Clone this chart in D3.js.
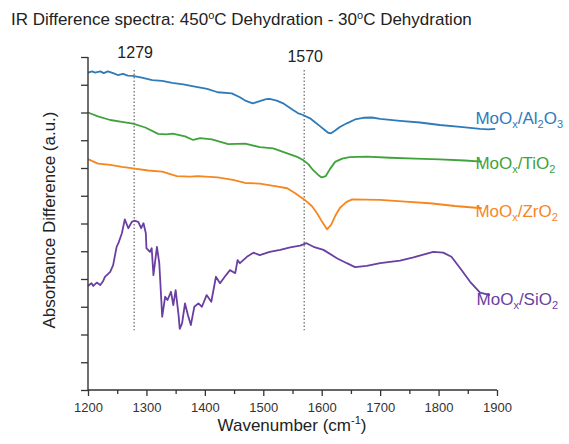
<!DOCTYPE html>
<html>
<head>
<meta charset="utf-8">
<script src="https://cdn.jsdelivr.net/npm/d3@7"></script>
<style>
body { margin: 0; background: #fff; }
svg { display: block; }
text { font-family: "Liberation Sans", Arial, sans-serif; }
</style>
</head>
<body>
<svg width="569" height="444"></svg>
<script>
// spectra, [wavenumber, absorbance difference (a.u., offset)]
const al2o3 = [[1200,11.44],[1207,11.48],[1212,11.44],[1221,11.48],[1227,11.42],[1234,11.48],[1243,11.42],[1251,11.35],[1260,11.39],[1268,11.33],[1277,11.32],[1292,11.26],[1310,11.17],[1327,11.14],[1344,11.07],[1363,11.01],[1383,10.93],[1404,10.85],[1422,10.73],[1446,10.69],[1460,10.55],[1469,10.43],[1482,10.33],[1494,10.41],[1505,10.48],[1511,10.49],[1523,10.43],[1534,10.33],[1542,10.22],[1551,10.09],[1559,9.98],[1568,9.91],[1580,9.79],[1588,9.66],[1597,9.51],[1604,9.39],[1611,9.27],[1616,9.25],[1623,9.35],[1631,9.48],[1643,9.61],[1657,9.75],[1671,9.81],[1686,9.82],[1700,9.77],[1734,9.70],[1768,9.64],[1802,9.55],[1837,9.48],[1871,9.41],[1885,9.39],[1897,9.41]];
const tio2 = [[1200,10.00],[1217,9.86],[1238,9.73],[1258,9.66],[1277,9.60],[1298,9.46],[1320,9.23],[1334,9.21],[1345,9.24],[1366,9.14],[1380,9.01],[1392,9.08],[1412,9.03],[1440,8.86],[1469,8.88],[1494,8.75],[1517,8.71],[1541,8.53],[1558,8.40],[1568,8.29],[1577,8.14],[1585,7.93],[1594,7.75],[1600,7.66],[1607,7.71],[1614,7.96],[1623,8.22],[1635,8.34],[1648,8.39],[1677,8.41],[1717,8.37],[1760,8.34],[1802,8.31],[1845,8.27],[1874,8.23]];
const zro2 = [[1200,8.32],[1217,8.16],[1238,8.11],[1258,8.04],[1277,7.99],[1303,7.91],[1327,7.87],[1352,7.71],[1375,7.69],[1388,7.71],[1422,7.66],[1448,7.57],[1469,7.46],[1494,7.44],[1520,7.35],[1541,7.27],[1554,7.10],[1571,6.85],[1583,6.63],[1592,6.37],[1601,6.05],[1609,5.79],[1616,5.95],[1623,6.27],[1631,6.56],[1642,6.77],[1652,6.87],[1674,6.86],[1700,6.85],[1743,6.79],[1785,6.73],[1828,6.63],[1874,6.55]];
const sio2 = [[1200,3.75],[1206,3.85],[1209,3.75],[1215,3.87],[1221,3.78],[1226,3.93],[1229,4.08],[1238,4.26],[1243,4.50],[1249,5.16],[1252,5.29],[1258,5.65],[1263,6.15],[1269,5.83],[1275,6.06],[1279,6.10],[1286,6.06],[1291,5.83],[1295,6.01],[1299,5.65],[1300,5.11],[1306,4.98],[1309,5.11],[1312,4.14],[1318,5.16],[1322,4.57],[1327,2.64],[1332,3.36],[1336,3.24],[1342,3.54],[1346,3.06],[1350,3.60],[1355,2.70],[1357,2.20],[1361,2.40],[1366,3.12],[1371,2.70],[1376,2.34],[1382,3.00],[1389,3.12],[1395,3.00],[1403,3.42],[1411,3.18],[1419,4.08],[1426,3.85],[1434,4.08],[1443,4.32],[1452,4.21],[1456,4.68],[1460,4.57],[1472,4.80],[1483,4.95],[1494,4.86],[1511,4.98],[1529,5.05],[1546,5.14],[1563,5.20],[1574,5.29],[1586,5.16],[1603,5.05],[1626,4.75],[1643,4.57],[1657,4.43],[1677,4.47],[1700,4.57],[1734,4.66],[1757,4.78],[1777,4.90],[1791,4.98],[1808,4.95],[1822,4.80],[1837,4.39],[1854,3.90],[1871,3.51],[1888,3.42]];

const seriesNames = [["MoO","x","/Al","2","O","3"], ["MoO","x","/TiO","2"], ["MoO","x","/ZrO","2"], ["MoO","x","/SiO","2"]];
const seriesColors = ["#2f7bba", "#3fa23a", "#f6861f", "#6a3fa2"];
const labelPos = [[1863, 9.6], [1863, 7.95], [1863, 6.22], [1865, 3.07]];
const marks = [1279, 1570];
const xTicks = [1200, 1300, 1400, 1500, 1600, 1700, 1800, 1900];
const xMinor = [1250, 1350, 1450, 1550, 1650, 1750, 1850];

const svg = d3.select("svg");
const x = d3.scaleLinear().domain([1200, 1900]).range([88, 497]);
const y = d3.scaleLinear().domain([0, 12]).range([390, 57]);

// title
const title = svg.append("text").attr("x", 11).attr("y", 25)
  .style("font-size", "17px").attr("fill", "#222");
title.append("tspan").text("IR Difference spectra: 450");
title.append("tspan").text("o").style("font-size", "11px").attr("dy", -6);
title.append("tspan").text("C Dehydration - 30").attr("dy", 6);
title.append("tspan").text("o").style("font-size", "11px").attr("dy", -6);
title.append("tspan").text("C Dehydration").attr("dy", 6);

// dotted markers
svg.selectAll(".mark").data(marks).enter().append("line")
  .attr("x1", d => x(d)).attr("x2", d => x(d))
  .attr("y1", y(11.53)).attr("y2", y(2.15))
  .attr("stroke", "#666").attr("stroke-width", 1.2)
  .attr("stroke-dasharray", "1.5,2");
svg.selectAll(".marklabel").data(marks).enter().append("text")
  .attr("x", d => x(d) + 1).attr("y", (d, i) => i == 0 ? 58 : 62)
  .attr("text-anchor", "middle").style("font-size", "16px").attr("fill", "#222")
  .text(d => d);

// curves
const line = d3.line().x(d => x(d[0])).y(d => y(d[1]));
[al2o3, tio2, zro2, sio2].forEach((s, i) => {
  svg.append("path").datum(s).attr("d", line)
    .attr("fill", "none").attr("stroke", seriesColors[i]).attr("stroke-width", 1.8)
    .attr("stroke-linejoin", "round");
});

// series labels
seriesNames.forEach((parts, i) => {
  const t = svg.append("text").attr("x", x(labelPos[i][0])).attr("y", y(labelPos[i][1]))
    .style("font-size", "17px").attr("fill", seriesColors[i]);
  let sub = false;
  parts.forEach((p, j) => {
    const isSub = j % 2 == 1;
    const ts = t.append("tspan").text(p);
    if (isSub) ts.style("font-size", "11px").attr("dy", 4);
    else if (j > 0) ts.attr("dy", -4);
  });
});

// axes
const xAxis = svg.append("g").attr("transform", "translate(0,390)")
  .call(d3.axisBottom(x).tickValues(xTicks).tickSize(6).tickPadding(7).tickFormat(d3.format("d")));
svg.append("g").attr("transform", "translate(0,390)")
  .call(d3.axisBottom(x).tickValues(xMinor).tickSize(4).tickFormat(""))
  .call(g => g.select(".domain").remove());
const yAxis = svg.append("g").attr("transform", "translate(88,0)")
  .call(d3.axisLeft(y).ticks(12).tickSize(7).tickFormat(""));
svg.selectAll(".domain").attr("stroke", "#333").attr("stroke-width", 1.4);
svg.selectAll(".tick line").attr("stroke", "#333").attr("stroke-width", 1.3);
xAxis.selectAll("text").style("font-size", "13px").attr("fill", "#333")
  .style("font-family", "'Liberation Sans', Arial, sans-serif");
yAxis.select(".domain").attr("d", "M0,390V57");
xAxis.select(".domain").attr("d", "M88,0H497");

// axis titles
const xt = svg.append("text").attr("x", 292).attr("y", 431).attr("text-anchor", "middle")
  .style("font-size", "17px").attr("fill", "#222");
xt.append("tspan").text("Wavenumber (cm");
xt.append("tspan").text("-1").style("font-size", "11px").attr("dy", -7);
xt.append("tspan").text(")").attr("dy", 7);

svg.append("text").attr("transform", "translate(55,220) rotate(-90)")
  .attr("text-anchor", "middle").style("font-size", "17px").attr("fill", "#222")
  .text("Absorbance Difference (a.u.)");
</script>
</body>
</html>
